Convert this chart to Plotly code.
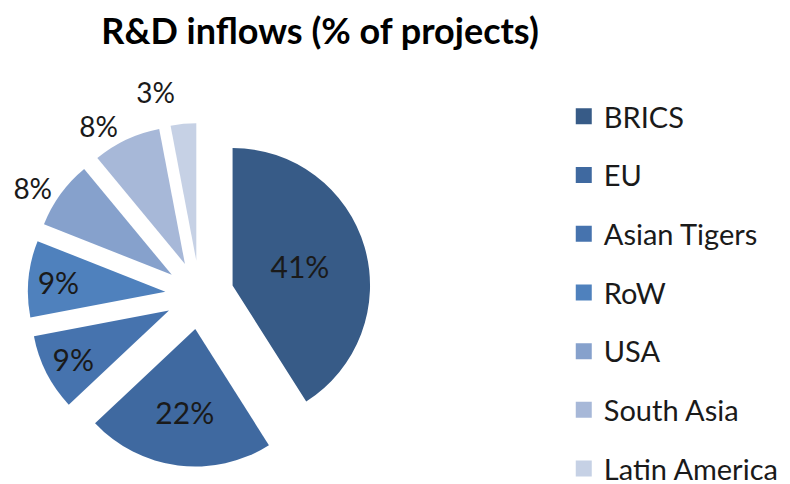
import plotly.graph_objects as go

# Dados do gráfico
regioes = ['BRICS', 'EU', 'Asian Tigers', 'RoW', 'USA', 'South Asia', 'Latin America']
percentuais = [41, 22, 9, 9, 8, 8, 3]
cores = ['#375b87', '#3f69a0', '#4673ae', '#4f81bd', '#86a1cc', '#a7b8d8', '#c6d1e5']
posicao_texto = ['inside', 'inside', 'inside', 'inside', 'outside', 'outside', 'outside']

FONTE = 'Lato, Calibri, sans-serif'

fig = go.Figure()

fig.add_trace(go.Pie(
    labels=regioes,
    values=percentuais,
    sort=False,
    direction='clockwise',
    pull=[0.25] * len(regioes),
    marker=dict(colors=cores, line=dict(width=0)),
    texttemplate='%{value}%',
    textposition=posicao_texto,
    insidetextorientation='horizontal',
    textfont=dict(family=FONTE, size=30, color='#1a1a1a'),
    outsidetextfont=dict(family=FONTE, size=28, color='#1a1a1a'),
    showlegend=False,
    hoverinfo='label+percent',
    domain=dict(x=[0.025, 0.46], y=[0.052, 0.762]),
))

# Legenda manual (para controlar o espaçamento entre itens)
for nome, cor in zip(regioes, cores):
    fig.add_trace(go.Scatter(
        x=[None], y=[None],
        mode='markers',
        name=nome,
        legendgroup=nome,
        marker=dict(symbol='square', size=17, color=cor),
        hoverinfo='skip',
    ))

fig.update_layout(
    width=790, height=484,
    margin=dict(l=0, r=0, t=0, b=0, autoexpand=False),
    paper_bgcolor='white',
    plot_bgcolor='white',
    title=dict(
        text='<b>R&D inflows (% of projects)</b>',
        font=dict(family=FONTE, size=36, color='#000000'),
        x=0.395, xanchor='center', y=0.952, yanchor='middle',
    ),
    xaxis=dict(visible=False),
    yaxis=dict(visible=False),
    legend=dict(
        x=0.7035, y=0.8285, xanchor='left', yanchor='top',
        maxheight=600,
        font=dict(family=FONTE, size=29, color='#1a1a1a'),
        tracegroupgap=18,
        bgcolor='rgba(0,0,0,0)',
    ),
)

# O gráfico original não tem linhas ligando os rótulos externos às fatias
esconder_linhas = """
var gd = document.getElementById('{plot_id}');
function esconder() {
    gd.querySelectorAll('path.textline').forEach(function (e) { e.style.display = 'none'; });
}
esconder();
gd.on('plotly_afterplot', esconder);
setTimeout(esconder, 300);
"""

fig.write_html('out.html', post_script=esconder_linhas)
